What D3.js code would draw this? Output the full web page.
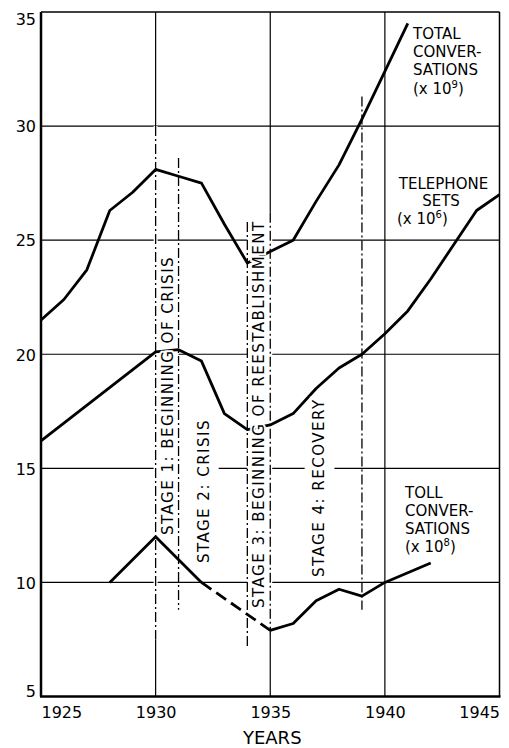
<!DOCTYPE html>
<meta charset="utf-8">
<style>

body { margin: 0; background: #fff; }
svg { display: block; font-family: "DejaVu Sans", sans-serif; }

.grid line { stroke: #000; stroke-width: 1.2px; }
.line { fill: none; stroke: #000; stroke-width: 2.8px; stroke-linejoin: round; }
.line--dash { stroke-dasharray: 12,6; }
.stage { stroke: #000; stroke-width: 1.3px; stroke-dasharray: 10,3,2,3; }
.axis text { font-family: "DejaVu Sans", sans-serif; font-size: 16px; fill: #000; }
.axis path { display: none; }
.stage-label { font-size: 15px; letter-spacing: 1.5px; fill: #000;
  stroke: #fff; stroke-width: 4px; paint-order: stroke; }
.series-label { font-size: 15px; fill: #000; }

</style>
<svg width="509" height="748"></svg>
<script src="https://d3js.org/d3.v7.min.js"></script>
<script>

// ticks
var yearTicks = [1925, 1930, 1935, 1940, 1945];
var valueTicks = [5, 10, 15, 20, 25, 30, 35];
var gridYears = [1930, 1935, 1940];
var gridValues = [10, 15, 20, 25, 30];

// total conversations (x 10^9)
var totalYears  = [1925, 1926, 1927, 1928, 1929, 1930, 1931, 1932, 1933, 1934, 1935, 1936, 1937, 1938, 1939, 1940, 1941];
var totalValues = [21.5, 22.4, 23.7, 26.3, 27.1, 28.1, 27.8, 27.5, 25.7, 24.0, 24.5, 25.0, 26.7, 28.3, 30.3, 32.4, 34.5];

// telephone sets (x 10^6)
var phoneYears  = [1925, 1930, 1931, 1932, 1933, 1934, 1935, 1936, 1937, 1938, 1939, 1940, 1941, 1942, 1943, 1944, 1945];
var phoneValues = [16.2, 20.1, 20.2, 19.7, 17.4, 16.7, 16.9, 17.4, 18.5, 19.4, 20.0, 20.9, 21.9, 23.3, 24.8, 26.3, 27.0];

// toll conversations (x 10^8), dashed between 1932 and 1935
var tollYears  = [1928, 1930, 1932, 1935, 1936, 1937, 1938, 1939, 1940, 1942];
var tollValues = [10.0, 12.0, 10.0, 7.9, 8.2, 9.2, 9.7, 9.4, 10.0, 10.85];
var tollDashed = [1932, 1935];

// stages
var stageNames = ["STAGE 1: BEGINNING OF CRISIS", "STAGE 2: CRISIS",
                  "STAGE 3: BEGINNING OF REESTABLISHMENT", "STAGE 4: RECOVERY"];
var boundaryYears  = [1930, 1931, 1934, 1935, 1939];
var boundaryTop    = [30, 28.6, 25.8, 26.2, 31.3];
var boundaryBottom = [7.5, 8.8, 7.2, 7.7, 8.8];

function main() {
  var svg = d3.select("svg");

  var x = d3.scaleLinear().domain([1925, 1945]).range([41, 499.5]);
  var y = d3.scaleLinear().domain([5, 35]).range([696.5, 12]);

  function pairs(xs, vs) { return xs.map(function(d, i) { return {year: d, value: vs[i]}; }); }
  var line = d3.line()
    .x(function(d) { return x(d.year); })
    .y(function(d) { return y(d.value); });

  // grid
  var grid = svg.append("g").attr("class", "grid");
  grid.selectAll(".h").data(gridValues).join("line").attr("class", "h")
    .attr("x1", x(1925)).attr("x2", x(1945))
    .attr("y1", function(d) { return y(d); }).attr("y2", function(d) { return y(d); });
  grid.selectAll(".v").data(gridYears).join("line").attr("class", "v")
    .attr("x1", function(d) { return x(d); }).attr("x2", function(d) { return x(d); })
    .attr("y1", y(5)).attr("y2", y(35));

  // label layout (position of each stage text, and the white box behind it)
  var stageLayout = [
    {cx: 1930.52, base: 12.08, box: [1930, 1931, 11.8, 24.8]},
    {cx: 1932.11, base: 10.85, box: [1931, 1932.75, 10.7, 17.4]},
    {cx: 1934.51, base: 8.88,  box: [1934, 1935, 8.6, 25.9]},
    {cx: 1937.13, base: 10.24, box: [1936.5, 1937.8, 10.15, 17.7]}
  ];

  svg.append("g").selectAll("rect").data(stageLayout).join("rect")
    .attr("fill", "#fff")
    .attr("x", function(d) { return x(d.box[0]); })
    .attr("width", function(d) { return x(d.box[1]) - x(d.box[0]); })
    .attr("y", function(d) { return y(d.box[3]); })
    .attr("height", function(d) { return y(d.box[2]) - y(d.box[3]); });

  // stage boundaries
  var bounds = boundaryYears.map(function(d, i) { return {year: d, top: boundaryTop[i], bottom: boundaryBottom[i]}; });
  var bg = svg.append("g");
  bg.selectAll(".under").data(bounds.filter(function(d) { return gridYears.indexOf(d.year) >= 0; }))
    .join("line").attr("class", "under")
    .attr("stroke", "#fff").attr("stroke-width", 4)
    .attr("x1", function(d) { return x(d.year); }).attr("x2", function(d) { return x(d.year); })
    .attr("y1", function(d) { return y(d.top); }).attr("y2", function(d) { return y(d.bottom); });
  bg.selectAll(".stage").data(bounds).join("line").attr("class", "stage")
    .attr("x1", function(d) { return x(d.year); }).attr("x2", function(d) { return x(d.year); })
    .attr("y1", function(d) { return y(d.top); }).attr("y2", function(d) { return y(d.bottom); });

  // series
  var total = pairs(totalYears, totalValues);
  var phone = pairs(phoneYears, phoneValues);
  var toll = pairs(tollYears, tollValues);

  svg.append("path").attr("class", "line").attr("d", line(total));
  svg.append("path").attr("class", "line").attr("d", line(phone));
  svg.append("path").attr("class", "line")
    .attr("d", line(toll.filter(function(d) { return d.year <= tollDashed[0]; })));
  svg.append("path").attr("class", "line line--dash")
    .attr("d", line(toll.filter(function(d) { return d.year >= tollDashed[0] && d.year <= tollDashed[1]; })));
  svg.append("path").attr("class", "line")
    .attr("d", line(toll.filter(function(d) { return d.year >= tollDashed[1]; })));

  // stage labels
  svg.append("g").selectAll("text").data(stageNames).join("text")
    .attr("class", "stage-label")
    .attr("transform", function(d, i) {
      return "translate(" + x(stageLayout[i].cx) + "," + y(stageLayout[i].base) + ") rotate(-90)";
    })
    .attr("dy", "0.36em")
    .text(function(d) { return d; });

  // axes
  var yAxis = svg.append("g").attr("class", "axis")
    .attr("transform", "translate(" + x(1925) + ",0)")
    .call(d3.axisLeft(y).tickValues(valueTicks).tickSize(0).tickPadding(5));
  yAxis.selectAll("text").attr("dy", function(d) {
    return d === 35 ? "0.8em" : d === 5 ? "0em" : "0.36em";
  });

  var xAxis = svg.append("g").attr("class", "axis")
    .attr("transform", "translate(0," + y(5) + ")")
    .call(d3.axisBottom(x).tickValues(yearTicks).tickFormat(d3.format("d")).tickSize(0).tickPadding(10));
  xAxis.selectAll("text").attr("text-anchor", function(d) {
    return d === 1925 ? "start" : d === 1945 ? "end" : "middle";
  });

  svg.append("text").attr("x", x(1935) + 2).attr("y", 744)
    .attr("text-anchor", "middle").style("font-size", "18px").text("YEARS");

  // frame
  var frame = svg.append("g").attr("stroke", "#000");
  frame.append("line").attr("x1", x(1925)).attr("x2", x(1925)).attr("y1", y(35)).attr("y2", y(5)).attr("stroke-width", 2.5);
  frame.append("line").attr("x1", x(1925) - 1).attr("x2", x(1945) + 1).attr("y1", y(5)).attr("y2", y(5)).attr("stroke-width", 2.5);
  frame.append("line").attr("x1", x(1925)).attr("x2", x(1945)).attr("y1", y(35)).attr("y2", y(35)).attr("stroke-width", 1.5);
  frame.append("line").attr("x1", x(1945)).attr("x2", x(1945)).attr("y1", y(35)).attr("y2", y(5)).attr("stroke-width", 1.5);

  // series labels
  function label(lines, px, py, anchor) {
    var t = svg.append("g").attr("class", "series-label");
    lines.forEach(function(l, i) {
      var el = t.append("text").attr("x", l.x || px).attr("y", py[i]).attr("text-anchor", l.anchor || anchor);
      if (l.sup) {
        el.append("tspan").text(l.text);
        el.append("tspan").attr("dy", -6).style("font-size", "10px").text(l.sup);
        el.append("tspan").attr("dy", 6).text(")");
      } else {
        el.text(l.text);
      }
    });
  }

  label([{text: "TOTAL"}, {text: "CONVER-"}, {text: "SATIONS"}, {text: "(x 10", sup: "9"}],
        413, [38.5, 56.5, 75, 94], "start");
  label([{text: "TELEPHONE", x: 443.5, anchor: "middle"}, {text: "SETS", x: 441, anchor: "middle"}, {text: "(x 10", sup: "6"}],
        397, [188.5, 206, 223.5], "start");
  label([{text: "TOLL"}, {text: "CONVER-"}, {text: "SATIONS"}, {text: "(x 10", sup: "8"}],
        405, [498, 516, 534, 552], "start");
}

main();

</script>
